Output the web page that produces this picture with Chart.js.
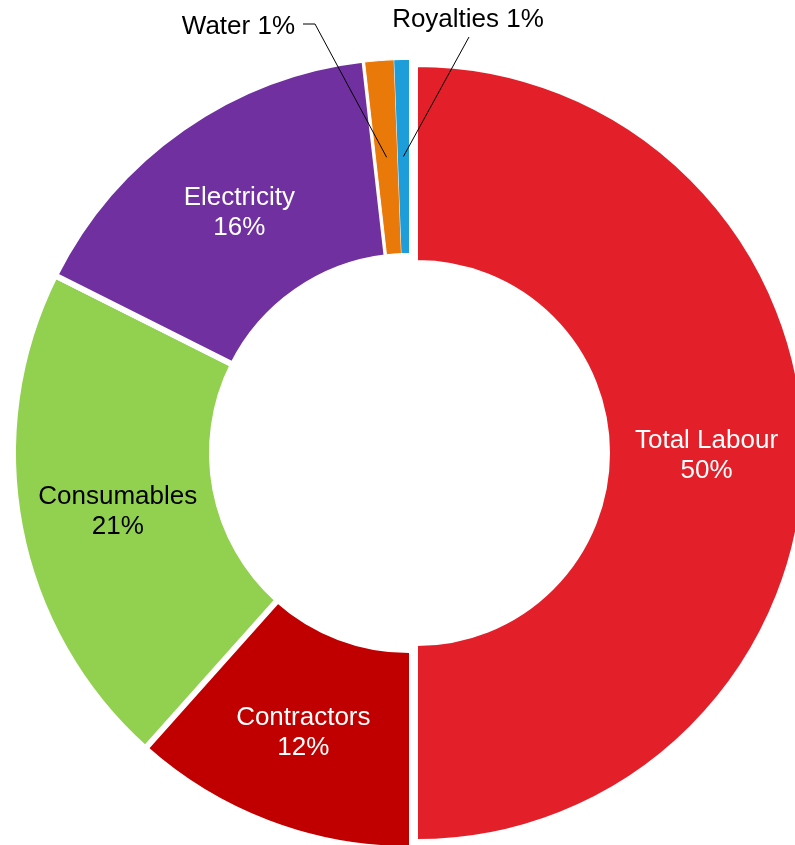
<!DOCTYPE html>
<html>
<head>
<meta charset="utf-8">
<script src="https://cdn.jsdelivr.net/npm/chart.js@4"></script>
<style>
  html, body { margin: 0; padding: 0; background: #fff; overflow: hidden; }
  #wrap { position: relative; width: 795px; height: 845px; }
</style>
</head>
<body>
<div id="wrap"><canvas id="costChart"></canvas></div>
<script>
// Operating cost split by category (share of total, %)
const categories = ['Total Labour', 'Contractors', 'Consumables', 'Electricity', 'Water', 'Royalties'];
const shares = [50.0, 11.6, 20.8, 15.8, 1.2, 0.6];

const sliceColors = ['#E3202A', '#C00000', '#92D050', '#7030A0', '#E97A0A', '#1E9DDB'];
const labelColors = ['#fff', '#fff', '#000', '#fff', '#000', '#000'];
// white gap round each slice, px
const gapWidths = [2, 0, 6, 6, 1, 0];

// the two tiny slices get their label outside with a leader line
const callouts = {
  'Water': { elbow: [315, 24], end: [303, 24], text: [295, 25], align: 'right' },
  'Royalties': { elbow: null, end: [469, 37], text: [468, 18], align: 'center' }
};

// keep the visible ring the same size whatever the border, and pull Total Labour out a bit
const ringTweak = {
  id: 'ringTweak',
  afterDatasetUpdate(chart, args) {
    args.meta.data.forEach((arc, i) => {
      const half = gapWidths[i] / 2;
      arc.outerRadius += half;
      arc.innerRadius -= half;
      if (i === 0) {
        const mid = (arc.startAngle + arc.endAngle) / 2;
        arc.x += Math.cos(mid) * 8;
        arc.y += Math.sin(mid) * 8;
        arc.outerRadius -= 7;
        arc.innerRadius -= 7;
      }
    });
  }
};

const sliceLabels = {
  id: 'sliceLabels',
  afterDatasetsDraw(chart) {
    const ctx = chart.ctx;
    const meta = chart.getDatasetMeta(0);
    const total = shares.reduce((a, b) => a + b, 0);
    ctx.save();
    ctx.font = '26px Arial, "Liberation Sans", sans-serif';
    ctx.textBaseline = 'middle';
    meta.data.forEach((arc, i) => {
      const pct = Math.round(shares[i] / total * 100) + '%';
      const pos = arc.tooltipPosition();
      const c = callouts[categories[i]];
      ctx.fillStyle = labelColors[i];
      if (c) {
        ctx.strokeStyle = '#000';
        ctx.lineWidth = 1;
        ctx.beginPath();
        ctx.moveTo(pos.x, pos.y);
        if (c.elbow) ctx.lineTo(c.elbow[0], c.elbow[1]);
        ctx.lineTo(c.end[0], c.end[1]);
        ctx.stroke();
        ctx.textAlign = c.align;
        ctx.fillText(categories[i] + ' ' + pct, c.text[0], c.text[1] + 2);
      } else {
        ctx.textAlign = 'center';
        ctx.fillText(categories[i], pos.x, pos.y - 12);
        ctx.fillText(pct, pos.x, pos.y + 18);
      }
    });
    ctx.restore();
  }
};

new Chart(document.getElementById('costChart'), {
  type: 'doughnut',
  data: {
    labels: categories,
    datasets: [{
      data: shares,
      backgroundColor: sliceColors,
      borderColor: '#fff',
      borderWidth: gapWidths,
      clip: false
    }]
  },
  options: {
    responsive: true,
    maintainAspectRatio: false,
    animation: false,
    events: [],
    radius: 393,
    cutout: '50.9%',
    layout: { padding: { left: 23, right: 0, top: 61, bottom: 0 } },
    plugins: {
      legend: { display: false },
      tooltip: { enabled: false }
    }
  },
  plugins: [ringTweak, sliceLabels]
});
</script>
</body>
</html>
